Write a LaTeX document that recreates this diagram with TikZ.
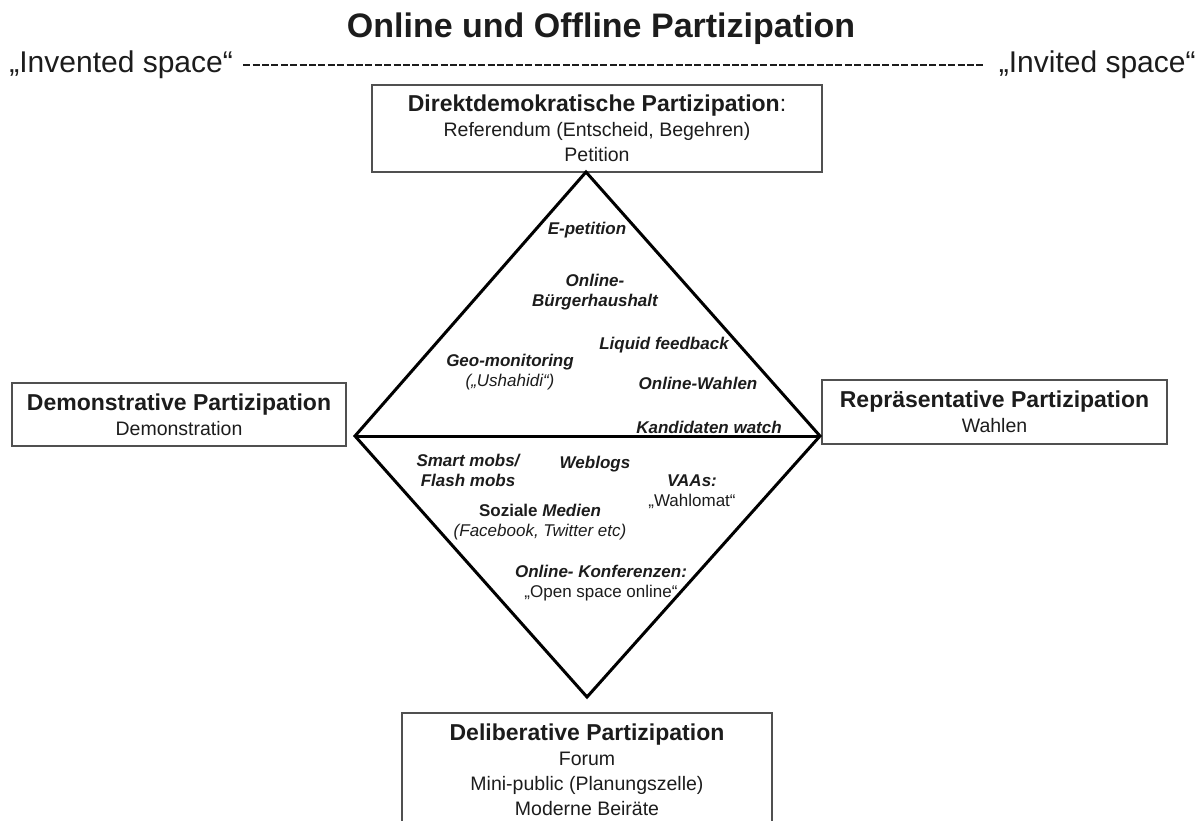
\documentclass[tikz,border=0pt]{standalone}
\usepackage{fontspec}
\setmainfont{Liberation Sans}
\usetikzlibrary{positioning}

\definecolor{ink}{HTML}{1C1C1C}
\definecolor{boxgray}{HTML}{505050}

\newcommand{\boxhead}[1]{{\fontsize{11.5pt}{12.5pt}\selectfont\bfseries #1}}

\begin{document}
\begin{tikzpicture}[x=0.5pt,y=-0.5pt,
  box/.style={draw=boxgray, line width=0.75pt, inner sep=0pt, align=center, text=ink,
    font=\fontsize{9.75pt}{12.5pt}\selectfont},
  item/.style={inner sep=0pt, align=center, text=ink,
    font=\fontsize{8.5pt}{10pt}\selectfont\bfseries\itshape},
  space/.style={inner sep=0pt, text=ink, font=\fontsize{15pt}{18pt}\selectfont},
  edge/.style={line width=1.5pt, black}]

\useasboundingbox (0,0) rectangle (1202,820);
\clip (0,0) rectangle (1202,820);

\node[inner sep=0pt, text=ink, font=\fontsize{17pt}{20pt}\selectfont\bfseries] (title) at (601,29) {Online und Offline Partizipation};

\node[space, anchor=west] (inv) at (9,65) {„Invented space“};
\node[space, anchor=east] (invt) at (1196,65) {„Invited space“};
\draw[ink, line width=1pt, dash pattern=on 3.5pt off 1.2pt, shorten <=5pt, shorten >=7.5pt] (inv.east) -- (invt.west);


\node[box, minimum width=225pt, minimum height=43.5pt] (direkt) at (597,128.5)
  {\boxhead{Direktdemokratische Partizipation{\mdseries:}}\\Referendum (Entscheid, Begehren)\\Petition};
\node[box, minimum width=167pt, minimum height=31.5pt] (demo) at (179,414.5)
  {\boxhead{Demonstrative Partizipation}\\Demonstration};
\node[box, minimum width=172.5pt, minimum height=32pt] (repr) at (994.5,412)
  {\boxhead{Repräsentative Partizipation}\\Wahlen};
\node[box, minimum width=185pt, minimum height=57pt] (delib) at (587,770)
  {\boxhead{Deliberative Partizipation}\\Forum\\Mini-public (Planungszelle)\\Moderne Beiräte};


\coordinate (top) at (586,172);
\coordinate (left) at (355,436);
\coordinate (right) at (820,436);
\coordinate (bottom) at (587,697);

\draw[edge] (left) -- (top) -- (right) -- (bottom) -- cycle;
\draw[edge] (left) -- (right);


\node[item] (epet) at (587,230) {E-petition};
\node[item] (haushalt) at (595,292) {Online-\\Bürgerhaushalt};
\node[item] (liquid) at (664,345) {Liquid feedback};
\node[item] (geo) at (510,372) {Geo-monitoring\\{\mdseries(„Ushahidi“)}};
\node[item] (owahl) at (698,383) {Online-Wahlen};
\node[item] (kand) at (709,427) {Kandidaten watch};

\node[item] (mobs) at (468,470) {Smart mobs/\\Flash mobs};
\node[item] (blogs) at (595,464) {Weblogs};
\node[item] (vaa) at (692,492) {VAAs:\\{\upshape\mdseries „Wahlomat“}};
\node[item] (sozial) at (540,522) {{\upshape Soziale} Medien\\{\mdseries(Facebook, Twitter etc)}};
\node[item] (konf) at (601,583) {Online- Konferenzen:\\{\upshape\mdseries „Open space online“}};
\end{tikzpicture}
\end{document}
